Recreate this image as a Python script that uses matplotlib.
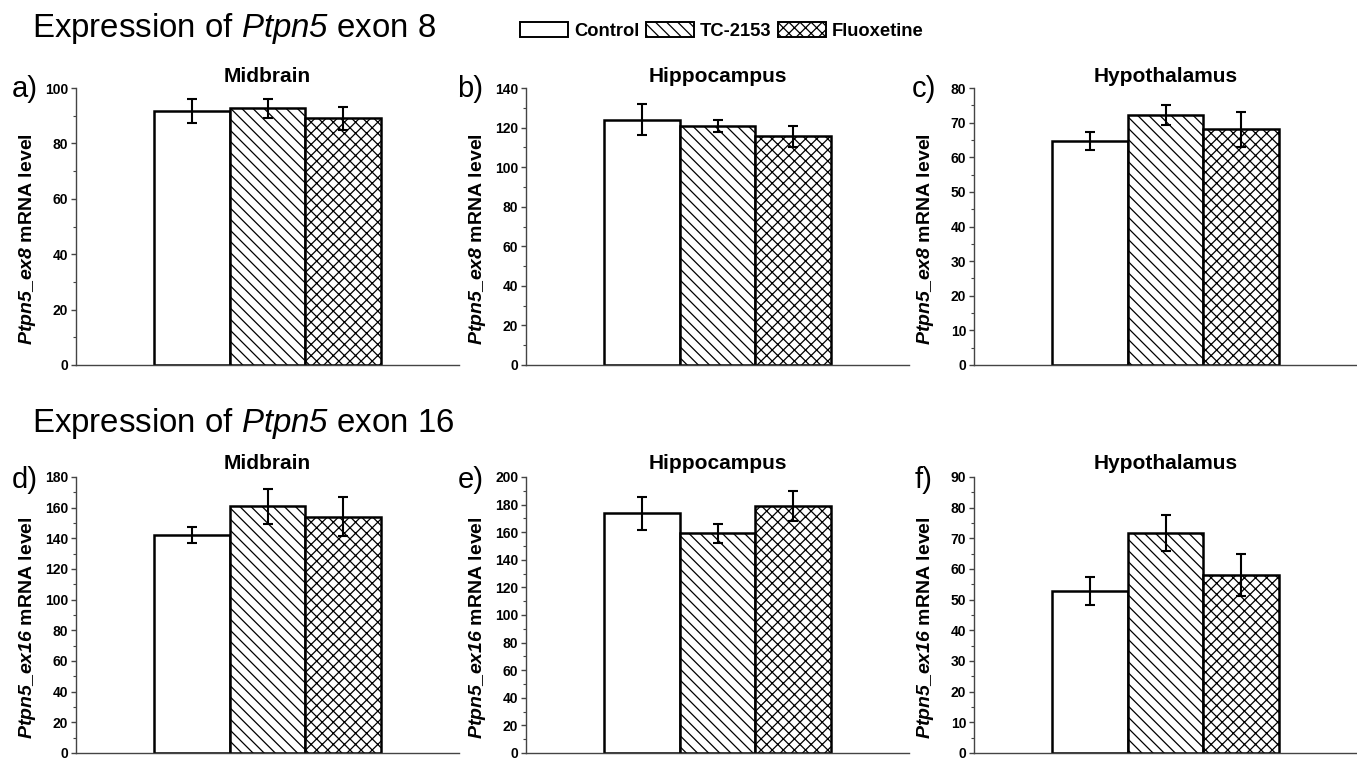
import matplotlib

matplotlib.use("Agg")
import matplotlib.pyplot as plt
from matplotlib.patches import Patch
from matplotlib.ticker import AutoMinorLocator, MultipleLocator

groups = ["Control", "TC-2153", "Fluoxetine"]
regions = ["Midbrain", "Hippocampus", "Hypothalamus"]

ex8_mean = [[91.8, 92.6, 89.0], [124.0, 120.8, 115.5], [64.8, 72.2, 68.1]]
ex8_err = [[4.3, 3.3, 4.2], [7.8, 3.0, 5.5], [2.6, 3.0, 5.1]]
ex8_ymax = [100, 140, 80]
ex8_step = [20, 20, 10]

ex16_mean = [[142.1, 160.8, 154.0], [173.7, 159.2, 179.0], [52.8, 71.8, 58.0]]
ex16_err = [[5.2, 11.5, 12.7], [12.0, 6.9, 11.0], [4.6, 5.9, 6.8]]
ex16_ymax = [180, 200, 90]
ex16_step = [20, 20, 10]

hatches = ["", "\\\\\\", "xxx"]
panel_letters = [["a)", "b)", "c)"], ["d)", "e)", "f)"]]

plt.rcParams["font.family"] = "Liberation Sans"
plt.rcParams["mathtext.fontset"] = "custom"
plt.rcParams["mathtext.rm"] = "Liberation Sans"
plt.rcParams["mathtext.it"] = "Liberation Sans:italic"
plt.rcParams["mathtext.bf"] = "Liberation Sans:bold"
plt.rcParams["mathtext.bfit"] = "Liberation Sans:italic:bold"
plt.rcParams["mathtext.sf"] = "Liberation Sans:italic"
plt.rcParams["hatch.linewidth"] = 0.9

W, H = 1357, 759
fig = plt.figure(figsize=(W / 100, H / 100), dpi=100)

lefts = [76, 526, 974]
row_top = [88, 477]
row_bottom = [365, 753]
ax_width = 383


def draw_panel(ax, means, errs, ymax, step, title, ylabel, pad):
    x = list(range(len(groups)))
    ax.bar(x, means, width=1.0, color="white", edgecolor="black",
           linewidth=1.8, hatch=hatches, zorder=2)
    ax.errorbar(x, means, yerr=errs, fmt="none", ecolor="black",
                elinewidth=1.5, capsize=3.4, capthick=1.5, zorder=3)
    ax.set_xlim(-1.53, 3.53)
    ax.set_ylim(0, ymax)
    ax.yaxis.set_major_locator(MultipleLocator(step))
    ax.yaxis.set_minor_locator(AutoMinorLocator(2))
    ax.set_xticks([])
    for side in ["top", "right"]:
        ax.spines[side].set_visible(False)
    for side in ["left", "bottom"]:
        ax.spines[side].set_color("#444444")
        ax.spines[side].set_linewidth(1.0)
    ax.tick_params(axis="y", which="major", length=3.5, width=1.0,
                   color="#444444", labelsize=10, pad=2)
    ax.tick_params(axis="y", which="minor", length=2, width=0.8,
                   color="#444444")
    for lab in ax.get_yticklabels():
        lab.set_fontweight("bold")
    ax.set_title(title, fontsize=15, fontweight="bold", pad=pad)
    ax.set_ylabel(ylabel, fontsize=14, fontweight="bold")
    ax.yaxis.set_label_coords(-0.10, 0.455)


rows = [
    (ex8_mean, ex8_err, ex8_ymax, ex8_step, r"$\mathbfit{Ptpn5\_ex8}$ mRNA level", 4.3),
    (ex16_mean, ex16_err, ex16_ymax, ex16_step, r"$\mathbfit{Ptpn5\_ex16}$ mRNA level", 5.8),
]

for r, (means, errs, ymaxs, steps, ylabel, pad) in enumerate(rows):
    for c in range(3):
        rect = [lefts[c] / W, 1 - row_bottom[r] / H, ax_width / W,
                (row_bottom[r] - row_top[r]) / H]
        ax = fig.add_axes(rect)
        draw_panel(ax, means[c], errs[c], ymaxs[c], steps[c], regions[c], ylabel, pad)

# panel letters
letter_x = [[12, 457, 912], [12, 458, 915]]
letter_base = [97, 488]
for r in range(2):
    for c in range(3):
        fig.text(letter_x[r][c] / W, 1 - letter_base[r] / H, panel_letters[r][c],
                 fontsize=21, va="baseline", ha="left")

fig.text(32 / W, 1 - 37 / H, r"Expression of $\mathsf{Ptpn5}$ exon 8",
         fontsize=23.8, va="baseline", ha="left")
fig.text(32 / W, 1 - 432 / H, r"Expression of $\mathsf{Ptpn5}$ exon 16",
         fontsize=23.8, va="baseline", ha="left")

handles = [Patch(facecolor="white", edgecolor="black", linewidth=1.4, hatch=h)
           for h in hatches]
fig.legend(handles, groups, loc="center", bbox_to_anchor=(722 / W, 1 - 31 / H),
           ncol=3, frameon=False, prop={"weight": "bold", "size": 13.2},
           handlelength=2.6, handleheight=0.9, handletextpad=0.35,
           columnspacing=0.35, borderpad=0.2)

fig.savefig("out.png", dpi=100)
